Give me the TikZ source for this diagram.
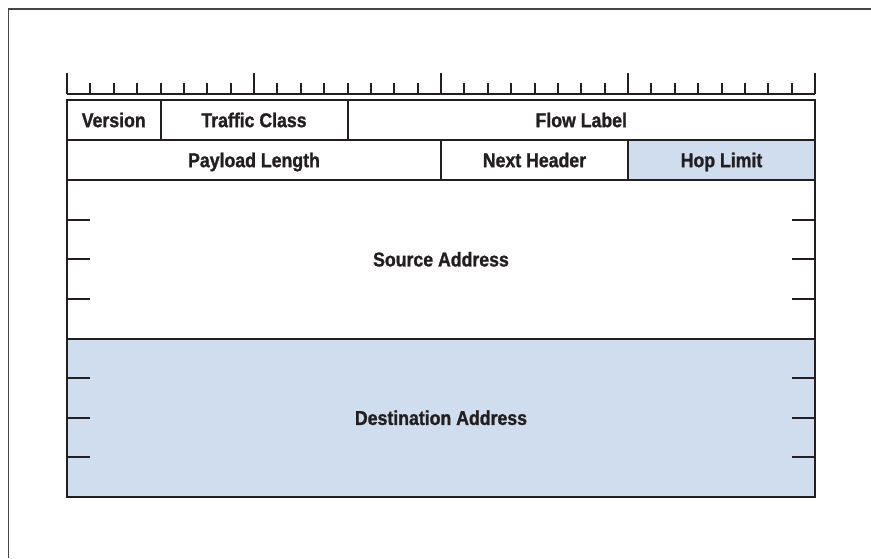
\documentclass[tikz,border=0pt]{standalone}
\usepackage{fontspec}
\setmainfont{Liberation Sans}
\newfontfamily\fieldfont{Liberation Sans}[FakeStretch=0.885, BoldFeatures={FakeBold=1.2}]
\usepackage{tikz}
\usetikzlibrary{positioning, calc}

\definecolor{hdrblue}{RGB}{207,221,239}
\definecolor{hdrline}{RGB}{35,31,32}
\definecolor{framegray}{RGB}{70,70,70}
\newcommand\bitw{23.375}

\tikzset{
  field/.style={draw=hdrline, line width=2pt, minimum height=40pt, inner sep=0pt, outer sep=0pt,
    text=hdrline, text height=14.3pt, text depth=0pt,
    font=\fieldfont\bfseries\fontsize{20}{22}\selectfont},
  addr/.style={field, minimum width={32*\bitw pt}, minimum height=158.5pt},
  shaded/.style={fill=hdrblue},
  tick/.style={hdrline, line width=2pt},
}

\begin{document}
\begin{tikzpicture}[x=1pt, y=-1pt]
        \useasboundingbox (0,0) rectangle (871,558);
        \draw[framegray, line width=1.5pt] (8.5,558) |- (871,9);  %frame

        % first two rows
        \node[field, minimum width={4*\bitw pt}, anchor=north west] (version) at (67,100) {Version};
        \node[field, minimum width={8*\bitw pt}, right=0pt of version] (tclass) {Traffic Class};
        \node[field, minimum width={20*\bitw pt}, right=0pt of tclass] (flowlbl) {Flow Label};
        \node[field, minimum width={16*\bitw pt}, anchor=north west] (paylen) at (version.south west) {Payload Length};
        \node[field, minimum width={8*\bitw pt}, right=0pt of paylen] (nexthdr) {Next Header};
        \node[field, shaded, minimum width={8*\bitw pt}, right=0pt of nexthdr] (hoplim) {Hop Limit};

        % addresses
        \node[addr, anchor=north west] (srcaddr) at (paylen.south west) {Source Address};
        \node[addr, shaded, anchor=north west] (dstaddr) at (srcaddr.south west) {Destination Address};
        \foreach \blk in {srcaddr, dstaddr}
        \foreach \f in {0.25, 0.5, 0.75}
        {
        \draw[tick] ($(\blk.north west)!\f!(\blk.south west)$) -- ++(\bitw,0);
        \draw[tick] ($(\blk.north east)!\f!(\blk.south east)$) -- ++(-\bitw,0);
        }

        % bit ruler
        \coordinate (ruler0) at ($(version.north west)+(0,-6)$);
        \draw[tick] (ruler0) -- ++(32*\bitw,0);
        \foreach \i in {0,...,32}
        {
        \pgfmathsetmacro\tlen{ifthenelse(mod(\i,8)==0,21,11)}
        \draw[tick] (ruler0) ++(\i*\bitw,0) -- ++(0,-\tlen);
        }
      \end{tikzpicture}
\end{document}
